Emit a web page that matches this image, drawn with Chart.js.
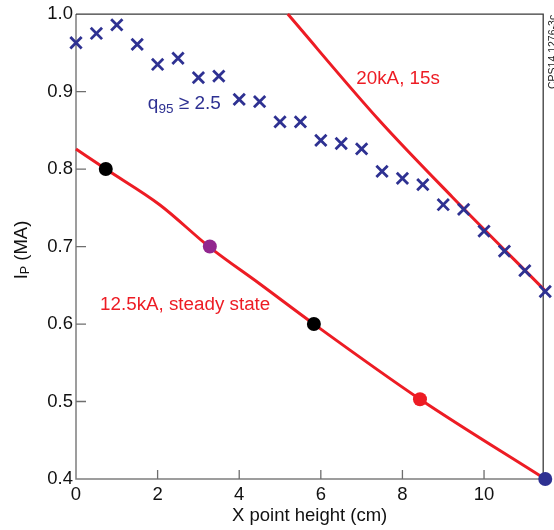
<!DOCTYPE html>
<html>
<head>
<meta charset="utf-8">
<script src="https://cdn.jsdelivr.net/npm/chart.js@4.4.1/dist/chart.umd.min.js"></script>
<style>
  html, body { margin: 0; padding: 0; background: #fff; }
  #wrap { width: 554px; height: 530px; }
</style>
</head>
<body>
<div id="wrap"><canvas id="ipChart" width="554" height="530"></canvas></div>
<script>
// q95 >= 2.5 limit (blue crosses)
const q95X = [0, 0.5, 1, 1.5, 2, 2.5, 3, 3.5, 4, 4.5, 5, 5.5, 6, 6.5, 7, 7.5, 8, 8.5, 9, 9.5, 10, 10.5, 11, 11.5];
const q95Y = [0.963, 0.975, 0.986, 0.961, 0.935, 0.943, 0.918, 0.920, 0.890, 0.887, 0.861, 0.861,
              0.837, 0.833, 0.826, 0.797, 0.788, 0.780, 0.754, 0.748, 0.720, 0.694, 0.669, 0.642];

// 12.5kA steady state curve
const steadyX = [0, 0.73, 2.05, 3.28, 4.5, 5.83, 8.43, 11.5];
const steadyY = [0.826, 0.800, 0.754, 0.699, 0.652, 0.600, 0.503, 0.400];

// 20kA, 15s curve
const pulsedX = [5.19, 7.43, 9.22, 11.5];
const pulsedY = [1.000, 0.863, 0.764, 0.643];

// marked operating points
const dotX = [0.73, 3.28, 5.83, 8.43, 11.5];
const dotY = [0.800, 0.700, 0.600, 0.503, 0.400];
const dotColors = ["#000000", "#92278f", "#000000", "#ed1c24", "#2e3192"];

const xTicks = [0, 2, 4, 6, 8, 10];
const yTicks = [0.4, 0.5, 0.6, 0.7, 0.8, 0.9, 1.0];

const RED = "#ed1c24";
const BLUE = "#2e3192";
const FONT = "'Liberation Sans', Arial, Helvetica, sans-serif";

const toPts = (xs, ys) => xs.map((x, i) => ({ x, y: ys[i] }));

// labels placed in data coordinates
const notes = [
  { x: 1.76, y: 0.877, color: BLUE, parts: [["q", 19, 0], ["95", 13.5, 4], [" \u2265 2.5", 19, 0]] },
  { x: 6.87, y: 0.910, color: RED, parts: [["20kA, 15s", 18.8, 0]] },
  { x: 0.59, y: 0.618, color: RED, parts: [["12.5kA, steady state", 18.8, 0]] }
];

function drawParts(ctx, parts, x, y) {
  let cx = x;
  parts.forEach(([txt, size, dy]) => {
    ctx.font = size + "px " + FONT;
    ctx.fillText(txt, cx, y + dy);
    cx += ctx.measureText(txt).width;
  });
}

const framePlugin = {
  id: "frame",
  beforeDatasetsDraw(chart) {
    const { ctx, chartArea: a, scales } = chart;
    ctx.save();
    ctx.lineWidth = 1.5;
    ctx.strokeStyle = "#7d7d7d";
    ctx.beginPath();
    ctx.moveTo(a.left, a.top);
    ctx.lineTo(a.left, a.bottom);
    ctx.lineTo(a.right, a.bottom);
    ctx.stroke();
    ctx.strokeStyle = "#3a3a3a";
    ctx.lineWidth = 1.3;
    ctx.beginPath();
    ctx.moveTo(a.left, a.top);
    ctx.lineTo(a.right, a.top);
    ctx.lineTo(a.right, a.bottom);
    ctx.stroke();
    // inward ticks
    ctx.strokeStyle = "#6e6e6e";
    ctx.lineWidth = 1.3;
    ctx.beginPath();
    xTicks.forEach(v => {
      if (v === 0) return;
      const px = scales.x.getPixelForValue(v);
      ctx.moveTo(px, a.bottom);
      ctx.lineTo(px, a.bottom - 9);
    });
    yTicks.forEach(v => {
      if (v === 0.4 || v === 1.0) return;
      const py = scales.y.getPixelForValue(v);
      ctx.moveTo(a.left, py);
      ctx.lineTo(a.left + 10, py);
    });
    ctx.stroke();
    ctx.restore();
  },
  afterDatasetsDraw(chart) {
    const { ctx, scales } = chart;
    ctx.save();
    ctx.textBaseline = "alphabetic";
    ctx.textAlign = "left";
    notes.forEach(n => {
      ctx.fillStyle = n.color;
      drawParts(ctx, n.parts, scales.x.getPixelForValue(n.x), scales.y.getPixelForValue(n.y));
    });

    // y axis title with subscript
    ctx.fillStyle = "#111";
    ctx.translate(22, 250);
    ctx.rotate(-Math.PI / 2);
    const parts = [["I", 18.5, 0], ["P", 12.5, 4], [" (MA)", 18.5, 0]];
    let w = 0;
    parts.forEach(([t, s]) => { ctx.font = s + "px " + FONT; w += ctx.measureText(t).width; });
    ctx.textBaseline = "middle";
    drawParts(ctx, parts, -w / 2, 0);
    ctx.restore();

    // figure id at the right edge
    ctx.save();
    ctx.fillStyle = "#222";
    ctx.font = "10.5px " + FONT;
    ctx.translate(555.5, 89);
    ctx.rotate(-Math.PI / 2);
    ctx.fillText("CPS14.1276-3c", 0, 0);
    ctx.restore();
  }
};

new Chart(document.getElementById("ipChart"), {
  type: "scatter",
  data: {
    datasets: [
      {
        label: "points",
        data: toPts(dotX, dotY),
        pointRadius: 7,
        pointBackgroundColor: dotColors,
        pointBorderWidth: 0,
        clip: false
      },
      {
        label: "q95",
        data: toPts(q95X, q95Y),
        pointStyle: "crossRot",
        pointRadius: 8,
        pointBorderColor: BLUE,
        pointBorderWidth: 2.8,
        clip: false
      },
      {
        type: "line",
        label: "20kA, 15s",
        data: toPts(pulsedX, pulsedY),
        borderColor: RED,
        borderWidth: 3,
        pointRadius: 0,
        cubicInterpolationMode: "monotone",
        clip: false
      },
      {
        type: "line",
        label: "12.5kA, steady state",
        data: toPts(steadyX, steadyY),
        borderColor: RED,
        borderWidth: 3,
        pointRadius: 0,
        cubicInterpolationMode: "monotone",
        clip: false
      }
    ]
  },
  options: {
    responsive: false,
    animation: false,
    devicePixelRatio: 1,
    layout: { padding: { top: 14, right: 10, left: 0, bottom: 0 } },
    plugins: {
      legend: { display: false },
      tooltip: { enabled: false }
    },
    scales: {
      x: {
        type: "linear",
        min: 0,
        max: 11.45,
        afterBuildTicks: s => { s.ticks = xTicks.map(v => ({ value: v })); },
        afterFit: s => { s.height = 51; },
        grid: { display: false, drawTicks: false },
        border: { display: false },
        ticks: { color: "#111", font: { family: FONT, size: 18.5 }, padding: 5, maxRotation: 0 },
        title: {
          display: true,
          text: "X point height (cm)",
          color: "#111",
          font: { family: FONT, size: 18.5 },
          padding: { top: 0, bottom: 3 }
        }
      },
      y: {
        type: "linear",
        min: 0.4,
        max: 1.0,
        afterBuildTicks: s => { s.ticks = yTicks.map(v => ({ value: v })); },
        afterFit: s => { s.width = 76; },
        grid: { display: false, drawTicks: false },
        border: { display: false },
        ticks: {
          color: "#111",
          font: { family: FONT, size: 18.5 },
          padding: 3,
          callback: v => v.toFixed(1)
        }
      }
    }
  },
  plugins: [framePlugin]
});
</script>
</body>
</html>
